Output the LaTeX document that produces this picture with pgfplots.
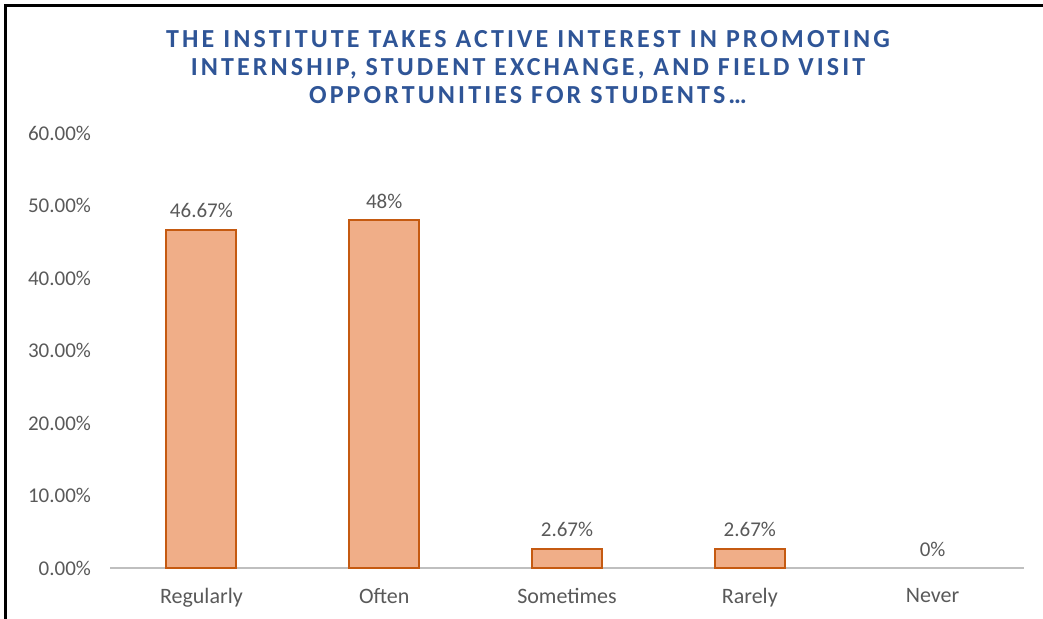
\documentclass[border=0pt]{standalone}
\usepackage{fontspec}
\setmainfont{Carlito}
\newfontfamily\titlefont[LetterSpace=12]{Carlito}
\usepackage{pgfplots}
\pgfplotsset{compat=1.18}
\definecolor{titleblue}{HTML}{2F5597}
\definecolor{txtgray}{HTML}{595959}
\definecolor{barfill}{HTML}{F0AE88}
\definecolor{baredge}{HTML}{C55A11}
\definecolor{axisgray}{HTML}{BFBFBF}
\begin{document}
\begin{tikzpicture}[x=1pt,y=1pt]
    \useasboundingbox (0,0) rectangle (521.5,309.5);
    % frame (left and top edges)
    \draw[line width=1.5pt] (2.75,0) -- (2.75,306.5) -- (521.5,306.5);
    % title
    \node[align=center, text=titleblue,
          font=\titlefont\bfseries\fontsize{13}{14}\selectfont]
        at (264,276) {THE INSTITUTE TAKES ACTIVE INTEREST IN PROMOTING\\
                      INTERNSHIP, STUDENT EXCHANGE, AND FIELD VISIT\\
                      OPPORTUNITIES FOR STUDENTS\ldots};
    \begin{axis}[
        at={(55pt,25.5pt)}, anchor=south west,
        scale only axis,
        width=457pt, height=217.5pt,
        xmin=-0.5, xmax=4.5,
        ymin=0, ymax=60,
        ybar, bar width=35pt, bar shift=0pt,
        axis x line*=bottom, axis y line*=left,
        x axis line style={-, draw=axisgray, line width=0.75pt},
        y axis line style={draw=none},
        major tick length=0pt,
        xtick={0,1,2,3,4},
        xticklabels={Regularly,Often,Sometimes,Rarely,Never},
        ytick={0,10,20,30,40,50,60},
        yticklabels={0.00\%,10.00\%,20.00\%,30.00\%,40.00\%,50.00\%,60.00\%},
        tick label style={font=\fontsize{10.5}{12}\selectfont, text=txtgray},
        yticklabel style={xshift=-6pt},
        xticklabel style={yshift=-6.5pt, font=\fontsize{11}{12}\selectfont},
        point meta=explicit symbolic,
        nodes near coords,
        nodes near coords style={font=\fontsize{10.5}{12}\selectfont,
                                 text=txtgray, yshift=2pt},
        clip=false,
    ]
        \addplot[fill=barfill, draw=baredge, line width=1pt] coordinates {
            (0,46.67) [46.67\%]
            (1,48.00) [48\%]
            (2,2.67)  [2.67\%]
            (3,2.67)  [2.67\%]
        };
        % zero bar: only its label shows
        \addplot[draw=none, fill=none] coordinates {
            (4,0) [0\%]
        };
    \end{axis}
\end{tikzpicture}
\end{document}
